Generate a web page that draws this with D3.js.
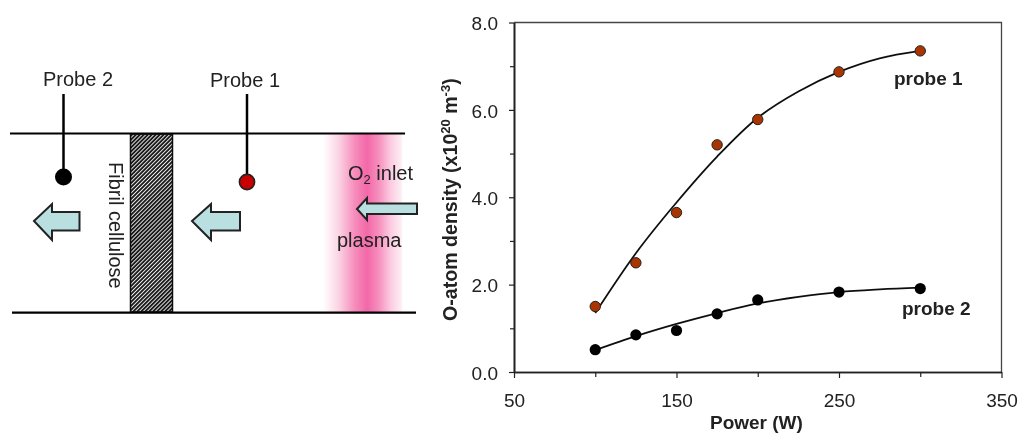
<!DOCTYPE html>
<html><head><meta charset="utf-8">
<script src="https://cdnjs.cloudflare.com/ajax/libs/d3/7.8.5/d3.min.js"></script>
<style>html,body{margin:0;padding:0;background:#fff}svg{display:block}text{font-family:"Liberation Sans",Arial,sans-serif;fill:#222}</style>
</head><body><div id="c"></div>
<script>
const power=[100,125,150,175,200,250,300];
const probe1=[1.5,2.5,3.65,5.2,5.78,6.87,7.35];
const probe2=[0.51,0.85,0.95,1.33,1.65,1.83,1.91];
const fitPower=[100,125,150,175,200,225,250,275,300];
const fit1=[1.35,2.72,3.88,4.93,5.82,6.42,6.87,7.18,7.35];
const fit2=[0.5,0.82,1.1,1.35,1.57,1.72,1.83,1.89,1.93];
const xMajor=[50,150,250,350], xMinor=[100,200,300];
const yMajor=[0,2,4,6,8], yMinor=[1,3,5,7];

const svg=d3.select("#c").append("svg").attr("width",1020).attr("height",434);
const defs=svg.append("defs");
defs.append("filter").attr("id","soft").attr("x",0).attr("y",0).attr("width","100%").attr("height","100%")
 .attr("filterUnits","userSpaceOnUse").append("feGaussianBlur").attr("stdDeviation",0.4);
const pat=defs.append("pattern").attr("id","hatch").attr("width",2.8).attr("height",2.8)
 .attr("patternUnits","userSpaceOnUse").attr("patternTransform","rotate(-45)");
pat.append("rect").attr("width",2.8).attr("height",2.8).attr("fill","#f2f2f2");
pat.append("rect").attr("width",2.8).attr("height",1.9).attr("fill","#1a1a1a");
const g=defs.append("linearGradient").attr("id","plasma");
[[0,"#fff"],[.2,"#fbd3e4"],[.4,"#f68dbc"],[.56,"#f368a8"],[.7,"#f68dbc"],[.85,"#fbc9df"],[1,"#fef1f7"]]
 .forEach(([o,c])=>g.append("stop").attr("offset",o).attr("stop-color",c));

const root=svg.append("g").attr("filter","url(#soft)");
root.append("rect").attr("width",1020).attr("height",434).attr("fill","#fff");
// schematic
const s=root.append("g");
s.append("rect").attr("x",323).attr("y",134).attr("width",79).attr("height",178).attr("fill","url(#plasma)");
s.append("rect").attr("x",130.5).attr("y",134).attr("width",42).attr("height",178).attr("fill","url(#hatch)").attr("stroke","#111").attr("stroke-width",1.5);
const ln=(a,b,c,d,w)=>s.append("line").attr("x1",a).attr("y1",b).attr("x2",c).attr("y2",d).attr("stroke","#000").attr("stroke-width",w);
ln(10,133.5,405,133.5,2.2); ln(12,312.7,416,312.7,2.2);
ln(63.5,94,63.5,175,2.5); ln(247,94,247,180,2.5);
s.append("circle").attr("cx",63.5).attr("cy",177).attr("r",8.5).attr("fill","#000");
s.append("circle").attr("cx",247).attr("cy",182).attr("r",7.6).attr("fill","#c80000").attr("stroke","#222").attr("stroke-width",1.6);
const arrow=(pts)=>s.append("polygon").attr("points",pts.map(p=>p.join(",")).join(" ")).attr("fill","#b9dfe0").attr("stroke","#222").attr("stroke-width",2);
arrow([[34,221],[52,204],[52,212],[79.5,212],[79.5,230.5],[52,230.5],[52,240]]);
arrow([[192,221],[211,204],[211,212],[240,212],[240,230.5],[211,230.5],[211,240]]);
arrow([[357,209],[367,198],[367,203.5],[417,203.5],[417,214],[367,214],[367,220]]);
const lab=(t,x,y)=>s.append("text").attr("x",x).attr("y",y).attr("font-size",20).text(t);
lab("Probe 2",43,86); lab("Probe 1",210,87); lab("plasma",337,247);
const o2=lab("O",348,180); o2.append("tspan").attr("font-size",13).attr("dy",4).text("2");
o2.append("tspan").attr("dy",-4).text(" inlet");
s.append("text").attr("transform","translate(109,162) rotate(90)").attr("font-size",20).text("Fibril cellulose");

// chart
const x=d3.scaleLinear().domain([50,350]).range([514,1001.5]);
const y=d3.scaleLinear().domain([0,8]).range([372,22.5]);
const c=root.append("g");
c.append("path").attr("d",`M${x(50)},${y(8)}H${x(350)}V${y(0)}`).attr("fill","none").attr("stroke","#444").attr("stroke-width",1.3);
const xa=c.append("g").attr("transform",`translate(0,${y(0)})`).call(d3.axisBottom(x).tickValues(xMajor).tickSize(6).tickSizeOuter(0).tickFormat(d3.format("d")));
const xb=c.append("g").attr("transform",`translate(0,${y(0)})`).call(d3.axisBottom(x).tickValues(xMinor).tickSize(5).tickSizeOuter(0).tickFormat(""));
const ya=c.append("g").attr("transform",`translate(${x(50)},0)`).call(d3.axisLeft(y).tickValues(yMajor).tickSize(5).tickSizeOuter(0).tickFormat(d3.format(".1f")));
const yb=c.append("g").attr("transform",`translate(${x(50)},0)`).call(d3.axisLeft(y).tickValues(yMinor).tickSize(4).tickSizeOuter(0).tickFormat(""));
[xa,xb,ya,yb].forEach(a=>{a.selectAll(".domain").attr("stroke","#222").attr("stroke-width",1.6);a.selectAll("line").attr("stroke","#222").attr("stroke-width",1.2);
 a.selectAll("text").attr("font-size",19).attr("font-family",'"Liberation Sans",Arial,sans-serif').attr("fill","#222");});
xa.selectAll("text").attr("dy",null).attr("y",35);
ya.selectAll("text").attr("x",-16).attr("dy","0.38em");

const line=d3.line().x((d,i)=>x(fitPower[i])).y(d=>y(d)).curve(d3.curveCatmullRom.alpha(0.5));
[fit1,fit2].forEach(f=>c.append("path").attr("d",line(f)).attr("fill","none").attr("stroke","#111").attr("stroke-width",1.8));
c.selectAll("circle.p1").data(probe1).join("circle").attr("class","p1").attr("cx",(d,i)=>x(power[i])).attr("cy",d=>y(d)).attr("r",5.2).attr("fill","#a93400").attr("stroke","#222").attr("stroke-width",1);
c.selectAll("circle.p2").data(probe2).join("circle").attr("class","p2").attr("cx",(d,i)=>x(power[i])).attr("cy",d=>y(d)).attr("r",5.6).attr("fill","#000");
const bold=(t,xx,yy,fs=19)=>c.append("text").attr("x",xx).attr("y",yy).attr("font-size",fs).attr("font-weight","bold").text(t);
bold("probe 1",894,85); bold("probe 2",902,315);
bold("Power (W)",710,429);
const yt=bold("O-atom density (x10",0,0,19.6).attr("x",null).attr("y",null).attr("transform","translate(457,321) rotate(-90)");
yt.append("tspan").attr("font-size",13).attr("dy",-7).text("20");
yt.append("tspan").attr("dy",7).text(" m");
yt.append("tspan").attr("font-size",13).attr("dy",-7).text("-3");
yt.append("tspan").attr("dy",7).text(")");
</script></body></html>
